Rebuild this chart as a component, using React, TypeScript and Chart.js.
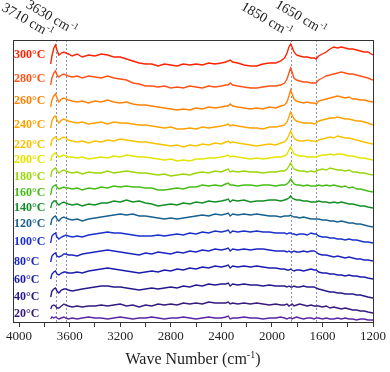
import React, { useEffect, useRef } from "react";
import { Chart, registerables } from "chart.js";

Chart.register(...registerables);

// Wave numbers (cm-1) at which the spectra are sampled
const WAVENUMBERS = [
  3750, 3740, 3725, 3712, 3700, 3685, 3665, 3645, 3630, 3610,
  3580, 3540, 3500, 3450, 3400, 3350, 3300, 3250, 3200, 3150, 3100, 3050, 3000,
  2950, 2900, 2850, 2800, 2750, 2700, 2650, 2600, 2550, 2500, 2450, 2400,
  2365, 2345, 2330, 2310, 2270, 2220, 2170, 2120, 2070, 2020, 1970, 1930,
  1900, 1880, 1865, 1852, 1840, 1825, 1805, 1780, 1750, 1720, 1690, 1665, 1650,
  1630, 1600, 1570, 1540, 1510, 1480, 1450, 1420, 1390, 1360, 1330, 1300, 1270, 1240, 1200,
];

// Offset intensities (a.u.) of each stacked spectrum
const S300 = [
  258, 266, 274, 277, 272, 267, 269, 270, 269, 268,
  266, 268, 265, 267, 266, 268, 267, 265, 265, 263, 261, 259, 258,
  258, 256, 258, 257, 256, 258, 257, 258, 257, 259, 258, 259,
  260, 261, 262, 260, 259, 257, 256, 256, 258, 259, 259, 261,
  264, 269, 275, 278, 275, 270, 267, 266, 265, 265, 264, 264, 263,
  266, 268, 270, 273, 275, 274, 275, 274, 273, 273, 272, 271, 270, 270, 267,
];
const S280 = [
  237, 244, 249, 251, 247, 245, 247, 248, 247, 246,
  245, 246, 244, 246, 245, 244, 246, 244, 243, 242, 239, 238, 236,
  236, 235, 236, 234, 235, 234, 236, 235, 234, 236, 235, 236,
  237, 237, 239, 237, 236, 235, 234, 234, 235, 236, 236, 237,
  239, 243, 249, 254, 250, 244, 242, 241, 240, 240, 239, 239, 239,
  242, 244, 246, 247, 248, 249, 250, 249, 248, 248, 247, 246, 245, 244, 242,
];
const S260 = [
  215, 222, 226, 228, 224, 220, 223, 224, 223, 222,
  221, 220, 221, 219, 221, 220, 222, 220, 219, 220, 218, 217, 217,
  216, 215, 214, 213, 212, 213, 212, 214, 213, 215, 214, 215,
  216, 216, 218, 216, 215, 214, 213, 214, 213, 215, 214, 216,
  217, 220, 226, 232, 228, 223, 221, 220, 219, 220, 219, 219, 218,
  221, 222, 223, 224, 225, 226, 225, 224, 225, 223, 223, 222, 222, 221, 220,
];
const S240 = [
  194, 201, 205, 206, 202, 199, 202, 203, 202, 201,
  200, 199, 200, 198, 199, 200, 198, 200, 199, 199, 198, 197, 197,
  196, 195, 194, 195, 193, 193, 194, 193, 195, 194, 195, 196,
  197, 198, 196, 197, 196, 195, 194, 194, 193, 195, 195, 196,
  197, 200, 205, 210, 207, 203, 201, 200, 199, 199, 199, 198, 199,
  201, 202, 203, 204, 204, 205, 204, 203, 203, 202, 201, 201, 200, 199, 197,
];
const S220 = [
  176, 182, 184, 185, 183, 182, 184, 185, 184, 182,
  181, 180, 181, 179, 181, 180, 182, 181, 183, 182, 181, 180, 180,
  179, 178, 177, 176, 177, 175, 177, 176, 178, 177, 179, 178,
  180, 181, 179, 180, 179, 178, 177, 176, 177, 178, 177, 179,
  180, 183, 187, 191, 188, 184, 182, 181, 181, 182, 181, 181, 180,
  182, 183, 184, 185, 184, 186, 185, 184, 184, 183, 182, 181, 180, 179, 178,
];
const S200 = [
  161, 166, 168, 169, 167, 165, 166, 167, 166, 165,
  165, 164, 165, 163, 164, 165, 164, 166, 165, 167, 166, 165, 165,
  164, 163, 162, 163, 161, 162, 161, 163, 163, 164, 164, 165,
  166, 167, 165, 166, 165, 164, 163, 164, 163, 164, 165, 165,
  166, 168, 172, 175, 172, 168, 167, 166, 166, 165, 165, 165, 165,
  166, 167, 167, 168, 167, 168, 168, 167, 166, 166, 165, 164, 164, 163, 162,
];
const S180 = [
  145, 151, 153, 154, 151, 149, 151, 152, 151, 150,
  149, 150, 148, 150, 149, 149, 151, 149, 150, 151, 150, 149, 149,
  148, 147, 148, 146, 147, 148, 147, 149, 150, 149, 151, 150,
  152, 153, 150, 151, 150, 151, 150, 150, 149, 150, 150, 151,
  151, 153, 156, 159, 156, 153, 152, 151, 151, 150, 151, 150, 151,
  152, 153, 152, 154, 153, 152, 152, 151, 152, 150, 150, 149, 149, 148, 147,
];
const S160 = [
  127, 134, 136, 137, 135, 133, 134, 135, 134, 134,
  133, 134, 132, 134, 133, 135, 134, 136, 135, 136, 135, 135, 134,
  134, 132, 132, 133, 134, 133, 135, 135, 137, 136, 137, 136,
  138, 139, 137, 137, 136, 137, 137, 136, 137, 137, 136, 137,
  137, 138, 140, 143, 141, 138, 137, 137, 136, 137, 136, 136, 136,
  137, 136, 137, 136, 137, 136, 135, 136, 134, 135, 133, 133, 132, 131, 130,
];
const S140 = [
  114, 119, 121, 121, 119, 117, 119, 120, 119, 118,
  117, 118, 116, 118, 117, 119, 119, 121, 120, 122, 120, 121, 119,
  118, 116, 117, 118, 117, 119, 118, 120, 119, 121, 120, 121,
  122, 123, 120, 122, 121, 122, 120, 121, 121, 122, 122, 121,
  122, 123, 124, 126, 124, 123, 122, 122, 121, 121, 120, 120, 120,
  121, 120, 120, 119, 120, 119, 120, 119, 118, 118, 117, 116, 116, 115, 114,
];
const S120 = [
  97, 103, 105, 106, 103, 101, 104, 105, 104, 103,
  102, 103, 101, 103, 104, 105, 106, 107, 108, 107, 108, 106, 106,
  105, 104, 103, 104, 103, 104, 105, 106, 107, 106, 108, 107,
  108, 109, 106, 108, 107, 108, 107, 108, 107, 106, 106, 105,
  106, 106, 106, 107, 106, 105, 105, 104, 105, 104, 103, 103, 103,
  103, 102, 102, 101, 101, 100, 101, 100, 99, 99, 98, 98, 97, 96, 95,
];
const S100 = [
  79, 86, 88, 89, 85, 83, 85, 86, 87, 86,
  85, 86, 85, 87, 88, 89, 90, 89, 89, 88, 87, 86, 86,
  86, 87, 86, 87, 88, 87, 89, 88, 90, 89, 91, 90,
  91, 92, 89, 91, 90, 91, 90, 91, 90, 90, 89, 89,
  89, 88, 89, 89, 88, 88, 87, 88, 88, 87, 89, 88, 88,
  86, 85, 85, 84, 84, 83, 83, 82, 83, 82, 82, 81, 80, 80, 79,
];
const S80 = [
  60, 66, 68, 69, 66, 65, 66, 68, 68, 67,
  67, 66, 68, 69, 70, 71, 72, 71, 70, 69, 68, 67, 69,
  68, 70, 69, 68, 70, 69, 71, 70, 72, 71, 73, 72,
  73, 74, 71, 73, 72, 73, 72, 73, 73, 72, 71, 71,
  71, 70, 71, 70, 70, 71, 70, 70, 71, 70, 71, 71, 70,
  68, 67, 67, 66, 65, 66, 65, 64, 65, 64, 63, 63, 62, 62, 61,
];
const S60 = [
  43, 48, 50, 51, 48, 47, 49, 50, 50, 49,
  49, 50, 49, 51, 52, 53, 54, 53, 52, 51, 50, 49, 50,
  51, 50, 52, 51, 53, 52, 54, 53, 55, 54, 56, 55,
  56, 57, 54, 56, 55, 56, 55, 56, 55, 54, 54, 53,
  53, 52, 52, 53, 52, 51, 52, 52, 51, 52, 53, 52, 52,
  50, 49, 49, 48, 48, 47, 47, 46, 47, 46, 46, 45, 45, 44, 43,
];
const S40 = [
  25, 31, 33, 34, 31, 29, 32, 33, 33, 32,
  31, 32, 33, 34, 35, 36, 36, 35, 35, 34, 33, 32, 33,
  34, 33, 34, 35, 34, 36, 35, 37, 36, 38, 37, 38,
  38, 39, 36, 38, 37, 38, 37, 37, 36, 37, 36, 36,
  36, 35, 36, 35, 35, 36, 35, 35, 36, 35, 35, 35, 34,
  33, 32, 31, 30, 30, 29, 29, 28, 28, 28, 27, 27, 26, 25, 24,
];
const S20 = [
  13, 16, 17, 16, 14, 14, 16, 18, 17, 16,
  15, 16, 15, 16, 16, 17, 16, 17, 18, 16, 17, 15, 17,
  16, 18, 17, 18, 17, 19, 18, 19, 18, 20, 19, 19,
  19, 20, 18, 19, 18, 19, 18, 19, 18, 17, 18, 17,
  17, 18, 16, 17, 18, 16, 17, 18, 17, 16, 17, 16, 16,
  16, 15, 16, 14, 15, 14, 13, 14, 13, 12, 12, 11, 11, 10, 9,
];
const SBASE = [
  3, 5, 4, 5, 4, 3, 4, 5, 4, 3,
  4, 3, 4, 5, 4, 4, 3, 4, 5, 4, 3, 4, 4,
  5, 4, 3, 4, 4, 5, 4, 3, 4, 5, 4, 4,
  5, 6, 3, 4, 4, 5, 4, 4, 3, 4, 4, 5,
  4, 3, 4, 4, 3, 4, 5, 4, 3, 4, 4, 3, 4,
  4, 3, 4, 3, 3, 4, 3, 4, 3, 3, 2, 3, 3, 2, 2,
];

const SERIES_LABELS = ["300°C", "280°C", "260°C", "240°C", "220°C", "200°C", "180°C", "160°C", "140°C", "120°C", "100°C", "80°C", "60°C", "40°C", "20°C", ""];
const SERIES_VALUES = [S300, S280, S260, S240, S220, S200, S180, S160, S140, S120, S100, S80, S60, S40, S20, SBASE];
const SERIES_COLORS = [
  "#ff2200", "#ff5216", "#ff8205", "#fca300", "#f7c300", "#e4e400", "#9bd60a", "#45bd14",
  "#138f26", "#17608f", "#1a2fcb", "#1b25c2", "#1a1cb0", "#24198c", "#35197e", "#5a24a4",
];
// label anchor levels (same units as the spectra)
const LABEL_LEVELS = [267, 243, 221, 197, 177, 162, 145, 129, 114, 98, 80, 60, 42, 25, 8];

const MARKERS = [3710, 3630, 1850, 1650];
const MARKER_TEXT = ["3710 cm", "3630 cm", "1850 cm", "1650 cm"];
const MARKER_LAYOUT = [
  { dx: -28, y: 20 },
  { dx: -14, y: 17 },
  { dx: -24, y: 19 },
  { dx: -15, y: 17 },
];

const TICK_VALUES = [4000, 3800, 3600, 3400, 3200, 3000, 2800, 2600, 2400, 2200, 2000, 1800, 1600, 1400, 1200];

const SERIF = '"Liberation Serif", "Times New Roman", serif';

function drawParts(ctx: CanvasRenderingContext2D, parts: { t: string; sup?: boolean }[], size: number, cx: number, cy: number, angle: number, color: string) {
  ctx.save();
  ctx.translate(cx, cy);
  ctx.rotate(angle);
  ctx.fillStyle = color;
  ctx.textBaseline = "alphabetic";
  ctx.textAlign = "left";
  const supSize = Math.round(size * 0.62);
  const widths = parts.map((p) => {
    ctx.font = `${p.sup ? supSize : size}px ${SERIF}`;
    return ctx.measureText(p.t).width;
  });
  const total = widths.reduce((a, b) => a + b, 0);
  let xx = -total / 2;
  const base = size * 0.34;
  parts.forEach((p, i) => {
    ctx.font = `${p.sup ? supSize : size}px ${SERIF}`;
    ctx.fillText(p.t, xx, p.sup ? base - size * 0.42 : base);
    xx += widths[i];
  });
  ctx.restore();
}

const overlayPlugin = {
  id: "overlay",
  beforeDatasetsDraw(chart: any) {
    const { ctx, chartArea: a, scales } = chart;
    const x = scales.x;
    ctx.save();
    ctx.strokeStyle = "#8790b5";
    ctx.lineWidth = 1;
    ctx.setLineDash([2, 2]);
    MARKERS.forEach((m) => {
      const px = Math.round(x.getPixelForValue(m)) + 0.5;
      ctx.beginPath();
      ctx.moveTo(px, a.top);
      ctx.lineTo(px, a.bottom);
      ctx.stroke();
    });
    ctx.restore();
  },
  afterDraw(chart: any) {
    const { ctx, chartArea: a, scales } = chart;
    const x = scales.x;
    const y = scales.y;
    ctx.save();
    ctx.strokeStyle = "#333";
    ctx.lineWidth = 1;
    ctx.strokeRect(Math.round(a.left) + 0.5, Math.round(a.top) + 0.5, Math.round(a.right - a.left), Math.round(a.bottom - a.top));
    ctx.font = `bold 12px ${SERIF}`;
    ctx.textBaseline = "middle";
    ctx.textAlign = "left";
    LABEL_LEVELS.forEach((lv, i) => {
      ctx.fillStyle = SERIES_COLORS[i];
      ctx.fillText(SERIES_LABELS[i], a.left + 1, y.getPixelForValue(lv));
    });
    ctx.restore();
    MARKERS.forEach((m, i) => {
      const px = x.getPixelForValue(m) + MARKER_LAYOUT[i].dx;
      drawParts(ctx, [{ t: MARKER_TEXT[i] }, { t: "-1", sup: true }], 14, px, MARKER_LAYOUT[i].y, Math.PI / 6, "#222");
    });
    drawParts(ctx, [{ t: "Wave Number (cm" }, { t: "-1", sup: true }, { t: ")" }], 16, (a.left + a.right) / 2, 359, 0, "#222");
  },
};

export default function App() {
  const ref = useRef<HTMLCanvasElement | null>(null);
  useEffect(() => {
    if (!ref.current) return;
    const datasets = SERIES_VALUES.map((vals, i) => ({
      label: SERIES_LABELS[i] || "baseline",
      data: WAVENUMBERS.map((w, j) => ({ x: w, y: vals[j] })),
      borderColor: SERIES_COLORS[i],
      backgroundColor: SERIES_COLORS[i],
      borderWidth: 1.4,
      pointRadius: 0,
      tension: 0,
      fill: false,
    }));
    const chart = new Chart(ref.current, {
      type: "line",
      data: { datasets },
      options: {
        animation: false,
        responsive: false,
        devicePixelRatio: 1,
        layout: { padding: { left: 13, right: 17, top: 40, bottom: 0 } },
        plugins: { legend: { display: false }, tooltip: { enabled: false } },
        scales: {
          x: {
            type: "linear",
            reverse: true,
            min: 1200,
            max: 4048,
            afterBuildTicks: (s: any) => {
              s.ticks = TICK_VALUES.map((v) => ({ value: v }));
            },
            afterFit: (s: any) => {
              s.height = 50;
            },
            ticks: {
              autoSkip: false,
              maxRotation: 0,
              padding: 2,
              color: "#222",
              font: { family: SERIF, size: 13 },
              callback: (v: any) => (Number(v) % 400 === 0 ? String(v) : ""),
            },
            grid: { drawOnChartArea: false, drawTicks: true, tickLength: 5, color: "#333", tickColor: "#333" },
            border: { display: false },
          },
          y: { display: false, min: 0, max: 282 },
        },
      } as any,
      plugins: [overlayPlugin],
    });
    return () => chart.destroy();
  }, []);
  return (
    <div style={{ position: "fixed", left: 0, top: 0, width: 390, height: 372, background: "#fff" }}>
      <canvas ref={ref} width={390} height={372} />
    </div>
  );
}
